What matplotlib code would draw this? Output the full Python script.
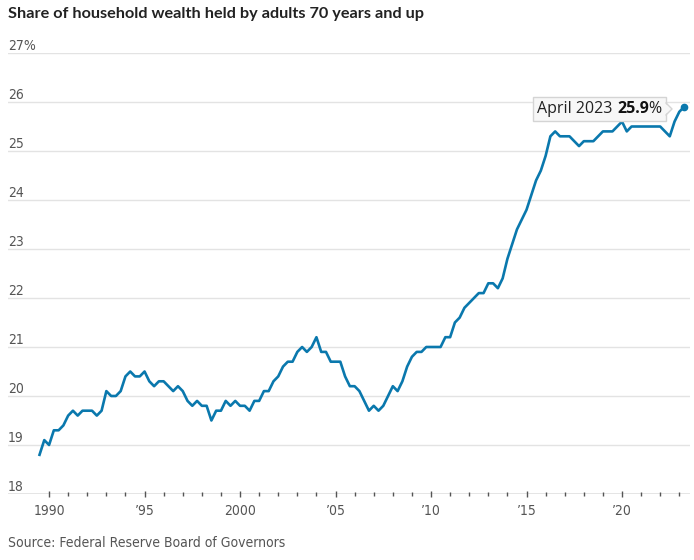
import matplotlib
matplotlib.use("Agg")
import matplotlib.pyplot as plt
from matplotlib.offsetbox import TextArea, HPacker, AnnotationBbox
from matplotlib.patches import Polygon
from matplotlib.lines import Line2D

# quarterly share (%) of household wealth held by adults 70+, 1989 Q3 .. 2023 Q2
start_year = 1989.5
share = [
    18.8, 19.1,                     # 1989
    19.0, 19.3, 19.3, 19.4,         # 1990
    19.6, 19.7, 19.6, 19.7,         # 1991
    19.7, 19.7, 19.6, 19.7,         # 1992
    20.1, 20.0, 20.0, 20.1,         # 1993
    20.4, 20.5, 20.4, 20.4,         # 1994
    20.5, 20.3, 20.2, 20.3,         # 1995
    20.3, 20.2, 20.1, 20.2,         # 1996
    20.1, 19.9, 19.8, 19.9,         # 1997
    19.8, 19.8, 19.5, 19.7,         # 1998
    19.7, 19.9, 19.8, 19.9,         # 1999
    19.8, 19.8, 19.7, 19.9,         # 2000
    19.9, 20.1, 20.1, 20.3,         # 2001
    20.4, 20.6, 20.7, 20.7,         # 2002
    20.9, 21.0, 20.9, 21.0,         # 2003
    21.2, 20.9, 20.9, 20.7,         # 2004
    20.7, 20.7, 20.4, 20.2,         # 2005
    20.2, 20.1, 19.9, 19.7,         # 2006
    19.8, 19.7, 19.8, 20.0,         # 2007
    20.2, 20.1, 20.3, 20.6,         # 2008
    20.8, 20.9, 20.9, 21.0,         # 2009
    21.0, 21.0, 21.0, 21.2,         # 2010
    21.2, 21.5, 21.6, 21.8,         # 2011
    21.9, 22.0, 22.1, 22.1,         # 2012
    22.3, 22.3, 22.2, 22.4,         # 2013
    22.8, 23.1, 23.4, 23.6,         # 2014
    23.8, 24.1, 24.4, 24.6,         # 2015
    24.9, 25.3, 25.4, 25.3,         # 2016
    25.3, 25.3, 25.2, 25.1,         # 2017
    25.2, 25.2, 25.2, 25.3,         # 2018
    25.4, 25.4, 25.4, 25.5,         # 2019
    25.6, 25.4, 25.5, 25.5,         # 2020
    25.5, 25.5, 25.5, 25.5,         # 2021
    25.5, 25.4, 25.3, 25.6,         # 2022
    25.8, 25.9,                     # 2023
]
years = [start_year + 0.25 * i for i in range(len(share))]

y_ticks = [18, 19, 20, 21, 22, 23, 24, 25, 26, 27]
y_labels = ["18", "19", "20", "21", "22", "23", "24", "25", "26", "27%"]
x_major = [1990, 1995, 2000, 2005, 2010, 2015, 2020]
x_labels = ["1990", "\u201995", "2000", "\u201905", "\u201910", "\u201915", "\u201920"]
x_minor = list(range(1990, 2024))

title = "Share of household wealth held by adults 70 years and up"
source = "Source: Federal Reserve Board of Governors"
callout = ("April 2023 ", "25.9", "%")

BLUE = "#0a78ad"
GRID = "#e3e3e3"
TXT = "#555555"
NARROW = dict(family="DejaVu Sans", stretch="condensed", fontsize=10)

fig = plt.figure(figsize=(6.94, 5.6), dpi=100)
ax = fig.add_axes([8 / 694, 66 / 560, 682 / 694, 441 / 560])
ax.set_xlim(1987.85, 2023.56)
ax.set_ylim(18, 27)
for s in ax.spines.values():
    s.set_visible(False)

for v, lab in zip(y_ticks, y_labels):
    ax.axhline(v, color=GRID, lw=1.3 if v == 18 else 1.0, zorder=1)
    ax.annotate(lab, (0, v), xycoords=("axes fraction", "data"),
                xytext=(0, 2.2), textcoords="offset points", ha="left", va="baseline",
                color=TXT, **NARROW)
ax.set_yticks([])

ax.set_xticks(x_major)
ax.set_xticklabels(x_labels, color=TXT, **NARROW)
ax.set_xticks(x_minor, minor=True)
ax.tick_params(axis="x", which="major", direction="inout", length=5, width=1,
               color="#555555", pad=5)
ax.tick_params(axis="x", which="minor", direction="inout", length=3, width=1,
               color="#555555")

ax.plot(years, share, color=BLUE, lw=1.9, zorder=3, solid_joinstyle="round")
ax.plot(years[-1], share[-1], "o", color=BLUE, ms=4.5, zorder=4)

tp = dict(fontsize=11.5, color="#222222", family="Open Sans")
parts = HPacker(children=[
    TextArea(callout[0], textprops=tp),
    TextArea(callout[1], textprops=dict(tp, weight="bold", color="#111111")),
    TextArea(callout[2], textprops=tp),
], pad=0, sep=0, align="baseline")
ab = AnnotationBbox(parts, (years[-1], share[-1]), xybox=(-16, -1.5),
                    xycoords="data", boxcoords="offset points", box_alignment=(1, 0.5),
                    pad=0.6, frameon=True,
                    bboxprops=dict(boxstyle="square", fc="#f7f7f7", ec="#d4d4d4", lw=1))
ab.set_zorder(5)
ax.add_artist(ab)

fig.text(8 / 694, 1 - 14 / 560, title, ha="left", va="center", fontsize=11.7,
         weight="bold", color="#222222", family="Lato")
fig.text(8 / 694, 1 - 543 / 560, source, ha="left", va="center", color=TXT, **NARROW)

# little pointer on the right side of the callout box
fig.canvas.draw()
bb = ab.patch.get_window_extent(fig.canvas.get_renderer())
inv = fig.transFigure.inverted()
ym = (bb.y0 + bb.y1) / 2
tri = inv.transform([(bb.x1 - 1.5, ym + 6), (bb.x1 + 6, ym), (bb.x1 - 1.5, ym - 6)])
fig.add_artist(Polygon(tri, closed=True, fc="#f7f7f7", ec="none", zorder=6))
edge = inv.transform([(bb.x1, ym + 6), (bb.x1 + 6, ym), (bb.x1, ym - 6)])
fig.add_artist(Line2D(edge[:, 0], edge[:, 1], color="#d4d4d4", lw=1, zorder=7))

fig.savefig("out.png", dpi=100)
